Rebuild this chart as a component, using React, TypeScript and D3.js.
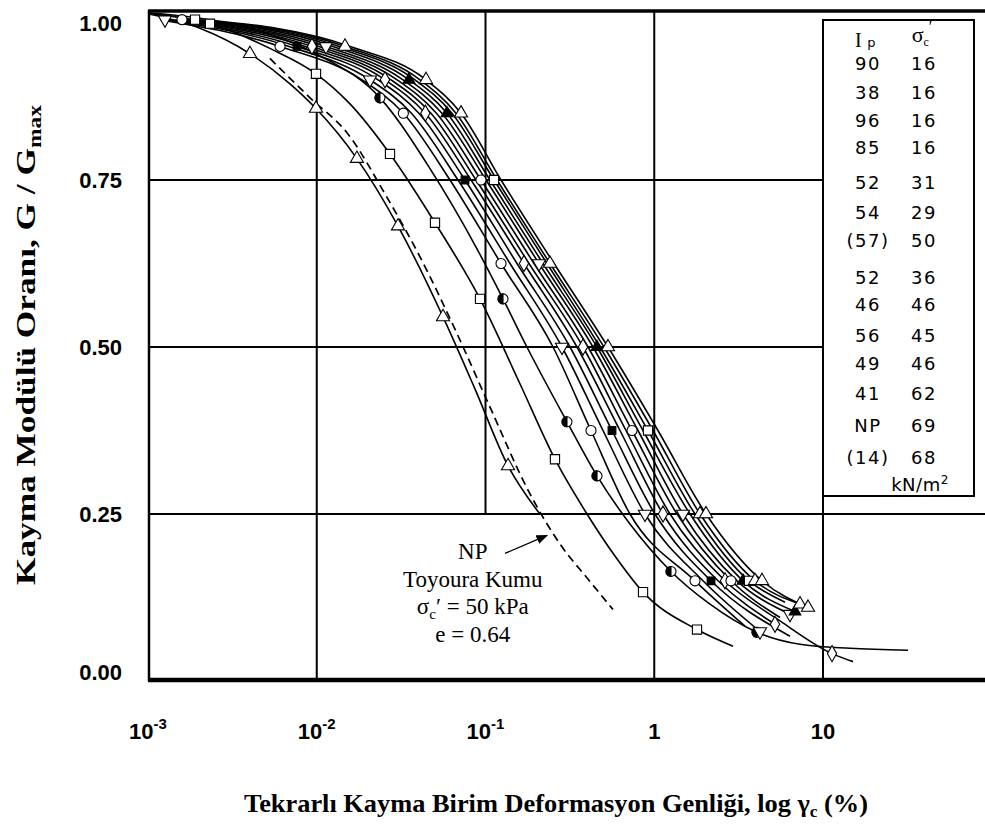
import React from 'react';
import * as d3 from 'd3';

const W = 985;
const H = 827;

// ---- axis ticks ----
const X_TICKS = [0.001, 0.01, 0.1, 1, 10];
const X_TICK_BASE = ['10', '10', '10', '1', '10'];
const X_TICK_EXP = ['-3', '-2', '-1', '', ''];
const Y_TICKS = [0, 0.25, 0.5, 0.75, 1.0];
const Y_TICK_LABELS = ['0.00', '0.25', '0.50', '0.75', '1.00'];

// ---- curves: [gamma (%), G/Gmax] ----
const CURVE_TOYOURA = [
  [0.00528, 0.932], [0.00912, 0.873], [0.0153, 0.819], [0.0254, 0.729], [0.0409, 0.635],
  [0.0678, 0.52], [0.1063, 0.41], [0.1835, 0.28], [0.2764, 0.205], [0.416, 0.149], [0.5695, 0.107],
];
const CURVE_B = [
  [0.00103, 0.998], [0.00203, 0.977], [0.00402, 0.939], [0.00694, 0.894], [0.0099, 0.857],
  [0.0173, 0.782], [0.0303, 0.681], [0.056, 0.545], [0.0867, 0.437], [0.136, 0.322], [0.21, 0.25],
];
const CURVE_C = [
  [0.00103, 0.999], [0.00233, 0.984], [0.00528, 0.947], [0.0099, 0.909], [0.01574, 0.864],
  [0.02717, 0.789], [0.0502, 0.686], [0.0928, 0.572], [0.16, 0.445], [0.258, 0.332],
  [0.3995, 0.25], [0.585, 0.187], [0.858, 0.133], [1.792, 0.077], [2.929, 0.052],
];
const CURVE_D = [
  [0.00103, 1.0], [0.00306, 0.984], [0.0099, 0.939], [0.0237, 0.873], [0.0469, 0.767],
  [0.089, 0.647], [0.127, 0.572], [0.176, 0.5], [0.304, 0.388], [0.458, 0.307], [0.718, 0.235],
  [1.257, 0.164], [2.14, 0.115], [4.064, 0.073], [7.308, 0.055], [14.45, 0.049], [31.9, 0.046],
];
const CURVE_E = [
  [0.00118, 0.99], [0.00606, 0.95], [0.01854, 0.9], [0.0326, 0.85], [0.0616, 0.75], [0.1236, 0.625],
  [0.2512, 0.5], [0.4219, 0.375], [0.718, 0.25], [1.744, 0.15], [3.451, 0.082],
];
const CURVE_F = [
  [0.00126, 0.99], [0.00685, 0.95], [0.02068, 0.9], [0.0364, 0.85], [0.0687, 0.75], [0.1397, 0.625],
  [0.284, 0.5], [0.497, 0.375], [0.881, 0.25], [1.945, 0.15], [4.234, 0.074],
];
const CURVE_G = [
  [0.00135, 0.99], [0.00764, 0.95], [0.02307, 0.9], [0.0403, 0.85], [0.0756, 0.75], [0.1537, 0.625],
  [0.3167, 0.5], [0.5618, 0.375], [1.01, 0.25], [2.17, 0.15], [6.374, 0.067],
];
const CURVE_H = [
  [0.00145, 0.99], [0.00852, 0.95], [0.02538, 0.9], [0.044, 0.85], [0.0821, 0.75], [0.169, 0.625],
  [0.3484, 0.5], [0.6266, 0.375], [1.127, 0.25], [2.387, 0.15], [5.195, 0.085],
];
const CURVE_I = [
  [0.00151, 0.99], [0.00937, 0.95], [0.02754, 0.9], [0.0475, 0.85], [0.0879, 0.75], [0.181, 0.625],
  [0.3783, 0.5], [0.6802, 0.375], [1.24, 0.25], [2.626, 0.15], [5.563, 0.09], [11.31, 0.041], [15.06, 0.029],
];
const CURVE_J = [
  [0.00159, 0.99], [0.01031, 0.95], [0.0299, 0.9], [0.0512, 0.85], [0.094, 0.75], [0.1938, 0.625],
  [0.405, 0.5], [0.7384, 0.375], [1.364, 0.25], [2.85, 0.15], [5.563, 0.095],
];
const CURVE_K = [
  [0.00168, 0.99], [0.01134, 0.95], [0.03245, 0.9], [0.0552, 0.85], [0.1007, 0.75], [0.2075, 0.625],
  [0.4335, 0.5], [0.8012, 0.375], [1.48, 0.25], [3.094, 0.15], [6.374, 0.1],
];
const CURVE_L = [
  [0.00177, 0.99], [0.01248, 0.95], [0.03522, 0.9], [0.0591, 0.85], [0.1063, 0.75], [0.2191, 0.625],
  [0.4577, 0.5], [0.8577, 0.375], [1.629, 0.25], [3.358, 0.15], [6.826, 0.104],
];
const CURVE_M = [
  [0.0019, 0.99], [0.01355, 0.95], [0.03822, 0.9], [0.0633, 0.85], [0.1123, 0.75], [0.2314, 0.625],
  [0.477, 0.5], [0.9183, 0.375], [1.744, 0.25], [3.644, 0.15], [5.955, 0.118],
];
const CURVE_N = [
  [0.00203, 0.99], [0.0147, 0.95], [0.04092, 0.9], [0.0668, 0.85], [0.117, 0.75], [0.2411, 0.625],
  [0.5038, 0.5], [0.9831, 0.375], [1.867, 0.25], [3.954, 0.15], [7.308, 0.115],
];
const CURVE_O = [
  [0.00218, 0.99], [0.01574, 0.95], [0.04441, 0.9], [0.0716, 0.85], [0.1236, 0.75], [0.2546, 0.625],
  [0.532, 0.5], [1.052, 0.375], [2.026, 0.25], [4.351, 0.15], [8.148, 0.11],
];

// which measured points carry a symbol
const MARKS_B = [2, 4, 5, 6, 7, 9];
const MARKS_C = [1, 3, 5, 6, 7, 9, 12, 13];
const MARKS_D = [3, 6, 8, 9, 11, 13];
const MARKS_E = [1, 3, 5, 7, 9];
const MARKS_F = [0, 2, 6, 8, 10];
const MARKS_G = [1, 4, 7, 9];
const MARKS_H = [2, 3, 5, 8, 10];
const MARKS_I = [1, 6, 9, 11];
const MARKS_J = [0, 4, 7, 9];
const MARKS_K = [1, 5, 8, 10];
const MARKS_L = [2, 3, 6, 9, 10];
const MARKS_M = [0, 4, 7, 9];
const MARKS_N = [1, 5, 8, 9, 10];
const MARKS_O = [2, 3, 6, 8, 9, 10];

// legend table
const LEGEND_IP = ['90', '38', '96', '85', '52', '54', '(57)', '52', '46', '56', '49', '41', 'NP', '(14)'];
const LEGEND_SIGMA = ['16', '16', '16', '16', '31', '29', '50', '36', '46', '45', '46', '62', '69', '68'];

// annotation (data coords)
const NOTE_LINES = ['NP', 'Toyoura Kumu', '', 'e = 0.64'];
const NOTE_AT = [0.084, 0.182];
const ARROW_FROM = [0.1305, 0.191];
const ARROW_TO = [0.2314, 0.218];

type Pt = number[];
interface Series { data: Pt[]; marks: number[]; symbol: string; dashed?: boolean }

const SERIES: Series[] = [
  { data: CURVE_TOYOURA, marks: [], symbol: 'none', dashed: true },
  { data: CURVE_B, marks: MARKS_B, symbol: 'triangle' },
  { data: CURVE_C, marks: MARKS_C, symbol: 'square' },
  { data: CURVE_D, marks: MARKS_D, symbol: 'halfCircle' },
  { data: CURVE_E, marks: MARKS_E, symbol: 'circle' },
  { data: CURVE_F, marks: MARKS_F, symbol: 'triangleDown' },
  { data: CURVE_G, marks: MARKS_G, symbol: 'squareFilled' },
  { data: CURVE_H, marks: MARKS_H, symbol: 'diamond' },
  { data: CURVE_I, marks: MARKS_I, symbol: 'diamond' },
  { data: CURVE_J, marks: MARKS_J, symbol: 'circle' },
  { data: CURVE_K, marks: MARKS_K, symbol: 'triangleDown' },
  { data: CURVE_L, marks: MARKS_L, symbol: 'triangleFilled' },
  { data: CURVE_M, marks: MARKS_M, symbol: 'square' },
  { data: CURVE_N, marks: MARKS_N, symbol: 'triangle' },
  { data: CURVE_O, marks: MARKS_O, symbol: 'triangle' },
];

// layout
const X0 = 148, X10 = 823, Y0 = 681, Y1 = 13;
const LEG_LEFT = 823, LEG_RIGHT = 974, LEG_TOP = 20, LEG_BOTTOM = 496;
const LEG_ROW_Y = [63, 92, 120, 147, 182, 212, 240, 277, 304, 335, 363, 393, 425, 457];

const symPath = (t: string): { d: string; fill: string } => {
  const g = d3.symbol();
  switch (t) {
    case 'circle': return { d: g.type(d3.symbolCircle).size(80)()!, fill: 'white' };
    case 'square': return { d: g.type(d3.symbolSquare).size(85)()!, fill: 'white' };
    case 'squareFilled': return { d: g.type(d3.symbolSquare).size(60)()!, fill: 'black' };
    case 'triangle': return { d: g.type(d3.symbolTriangle).size(75)()!, fill: 'white' };
    case 'triangleFilled': return { d: g.type(d3.symbolTriangle).size(60)()!, fill: 'black' };
    case 'triangleDown': return { d: g.type(d3.symbolTriangle).size(75)()!, fill: 'white' };
    case 'diamond': return { d: g.type(d3.symbolDiamond).size(75)()!, fill: 'white' };
    default: return { d: g.type(d3.symbolCircle).size(80)()!, fill: 'white' };
  }
};

export default function App() {
  const x = d3.scaleLog().domain([0.001, 10]).range([X0, X10]);
  const y = d3.scaleLinear().domain([0, 1]).range([Y0, Y1]);
  const line = d3.line<Pt>().x(d => x(d[0])).y(d => y(d[1])).curve(d3.curveMonotoneX);

  const sans = "'Liberation Sans', Arial, sans-serif";
  const serif = "'Liberation Serif', 'Times New Roman', serif";
  const legFont = "'DejaVu Sans', sans-serif";

  const noteX = x(NOTE_AT[0]);
  const noteY = y(NOTE_AT[1]);

  return (
    <svg width={W} height={H} viewBox={`0 0 ${W} ${H}`}
      style={{ position: 'absolute', left: 0, top: 0, background: 'white' }}>
      <rect x={0} y={0} width={W} height={H} fill="white" />
      <defs>
        <marker id="arr" viewBox="0 0 10 10" refX="9" refY="5" markerWidth="9" markerHeight="9" orient="auto">
          <path d="M0,1 L10,5 L0,9 Z" fill="black" />
        </marker>
      </defs>

      {/* grid lines */}
      <g stroke="black" strokeWidth={2}>
        <line x1={x(0.01)} x2={x(0.01)} y1={y(1) - 2} y2={y(0)} />
        <line x1={x(0.1)} x2={x(0.1)} y1={y(1) - 2} y2={y(0.25)} />
        <line x1={x(1)} x2={x(1)} y1={y(1) - 2} y2={y(0)} />
        <line x1={x(10)} x2={x(10)} y1={LEG_BOTTOM} y2={y(0)} />
        <line x1={X0} x2={x(10)} y1={y(0.75)} y2={y(0.75)} />
        <line x1={X0} x2={x(10)} y1={y(0.5)} y2={y(0.5)} />
        <line x1={X0} x2={W} y1={y(0.25)} y2={y(0.25)} />
      </g>

      {/* curves */}
      <g fill="none" stroke="black">
        {SERIES.map((s, i) => (
          <path key={i} d={line(s.data)!} strokeWidth={s.dashed ? 1.7 : 1.6}
            strokeDasharray={s.dashed ? '8,5' : undefined} />
        ))}
      </g>

      {/* symbols */}
      <g stroke="black" strokeWidth={1.1}>
        {SERIES.map((s, i) => s.marks.map(k => {
          const p = s.data[k];
          const cx = x(p[0]);
          const cy = y(p[1]);
          if (s.symbol === 'halfCircle') {
            return (
              <g key={`${i}-${k}`} transform={`translate(${cx},${cy})`}>
                <circle r={5} fill="white" />
                <path d="M0,-5 A5,5 0 0,0 0,5 Z" fill="black" />
              </g>
            );
          }
          const sp = symPath(s.symbol);
          const rot = s.symbol === 'triangleDown' ? ' rotate(180)' : '';
          return <path key={`${i}-${k}`} d={sp.d} fill={sp.fill} transform={`translate(${cx},${cy})${rot}`} />;
        }))}
      </g>

      {/* frame */}
      <g stroke="black">
        <line x1={X0} x2={W} y1={y(1) - 2} y2={y(1) - 2} strokeWidth={3.5} />
        <line x1={X0 + 1} x2={X0 + 1} y1={y(1) - 3} y2={y(0)} strokeWidth={2.5} />
        <line x1={X0} x2={W} y1={y(0) - 1} y2={y(0) - 1} strokeWidth={4.5} />
      </g>

      {/* legend table */}
      <rect x={LEG_LEFT} y={LEG_TOP} width={LEG_RIGHT - LEG_LEFT} height={LEG_BOTTOM - LEG_TOP}
        fill="white" stroke="black" strokeWidth={2} />
      <g fontFamily={legFont} fontSize={18} fill="black" textAnchor="middle" letterSpacing={1.5}>
        <text x={866} y={47} fontFamily={serif} fontSize={20}>I<tspan fontFamily={legFont} fontSize={13} dx={4}>p</tspan></text>
        <text x={922} y={42} fontFamily={serif} fontSize={22} letterSpacing={0}>σ<tspan fontSize={12} dy={4}>c</tspan><tspan fontSize={16} dy={-14}>′</tspan></text>
        {LEGEND_IP.map((v, i) => (
          <text key={`ip${i}`} x={868} y={LEG_ROW_Y[i] + 6.5}>{v}</text>
        ))}
        {LEGEND_SIGMA.map((v, i) => (
          <text key={`sg${i}`} x={924} y={LEG_ROW_Y[i] + 6.5}>{v}</text>
        ))}
        <text x={920} y={491} letterSpacing={0.5}>kN/m<tspan fontSize={12} dy={-7}>2</tspan></text>
      </g>

      {/* y tick labels */}
      <g fontFamily={sans} fontWeight="bold" fontSize={22} textAnchor="end" fill="black">
        {Y_TICKS.map((v, i) => (
          <text key={i} x={122} y={y(v) + (v === 1 ? 10 : v === 0 ? -9 : 0)} dy="0.36em">{Y_TICK_LABELS[i]}</text>
        ))}
      </g>

      {/* x tick labels */}
      <g fontFamily={sans} fontWeight="bold" fontSize={22} fill="black">
        {X_TICKS.map((v, i) => (
          <text key={i} x={x(v)} y={739} textAnchor="middle">
            {X_TICK_BASE[i]}
            {X_TICK_EXP[i] ? <tspan fontSize={15} dy={-10}>{X_TICK_EXP[i]}</tspan> : null}
          </text>
        ))}
      </g>

      {/* axis titles */}
      <text x={556} y={812} textAnchor="middle" fontFamily={serif} fontWeight="bold" fontSize={26} fill="black"
        textLength={624} lengthAdjust="spacingAndGlyphs">
        Tekrarlı Kayma Birim Deformasyon Genliği, log γ<tspan fontSize={17} dy={5}>c</tspan><tspan dy={-5}> (%)</tspan>
      </text>
      <text transform={`translate(35,345) rotate(-90)`} textAnchor="middle" fontFamily={serif} fontWeight="bold" fontSize={27} fill="black"
        textLength={480} lengthAdjust="spacingAndGlyphs">
        Kayma Modülü Oranı, G / G<tspan fontSize={18} dy={6}>max</tspan>
      </text>

      {/* annotation */}
      <g fontFamily={serif} fontSize={23} fill="black" textAnchor="middle">
        <text x={noteX} y={noteY + 0}>{NOTE_LINES[0]}</text>
        <text x={noteX} y={noteY + 28}>{NOTE_LINES[1]}</text>
        <text x={noteX} y={noteY + 55}>σ<tspan fontSize={15} dy={5}>c</tspan><tspan dy={-5}>′ = 50 kPa</tspan></text>
        <text x={noteX} y={noteY + 83}>{NOTE_LINES[3]}</text>
      </g>
      <line x1={x(ARROW_FROM[0])} y1={y(ARROW_FROM[1])} x2={x(ARROW_TO[0])} y2={y(ARROW_TO[1])}
        stroke="black" strokeWidth={1.3} markerEnd="url(#arr)" />
    </svg>
  );
}
